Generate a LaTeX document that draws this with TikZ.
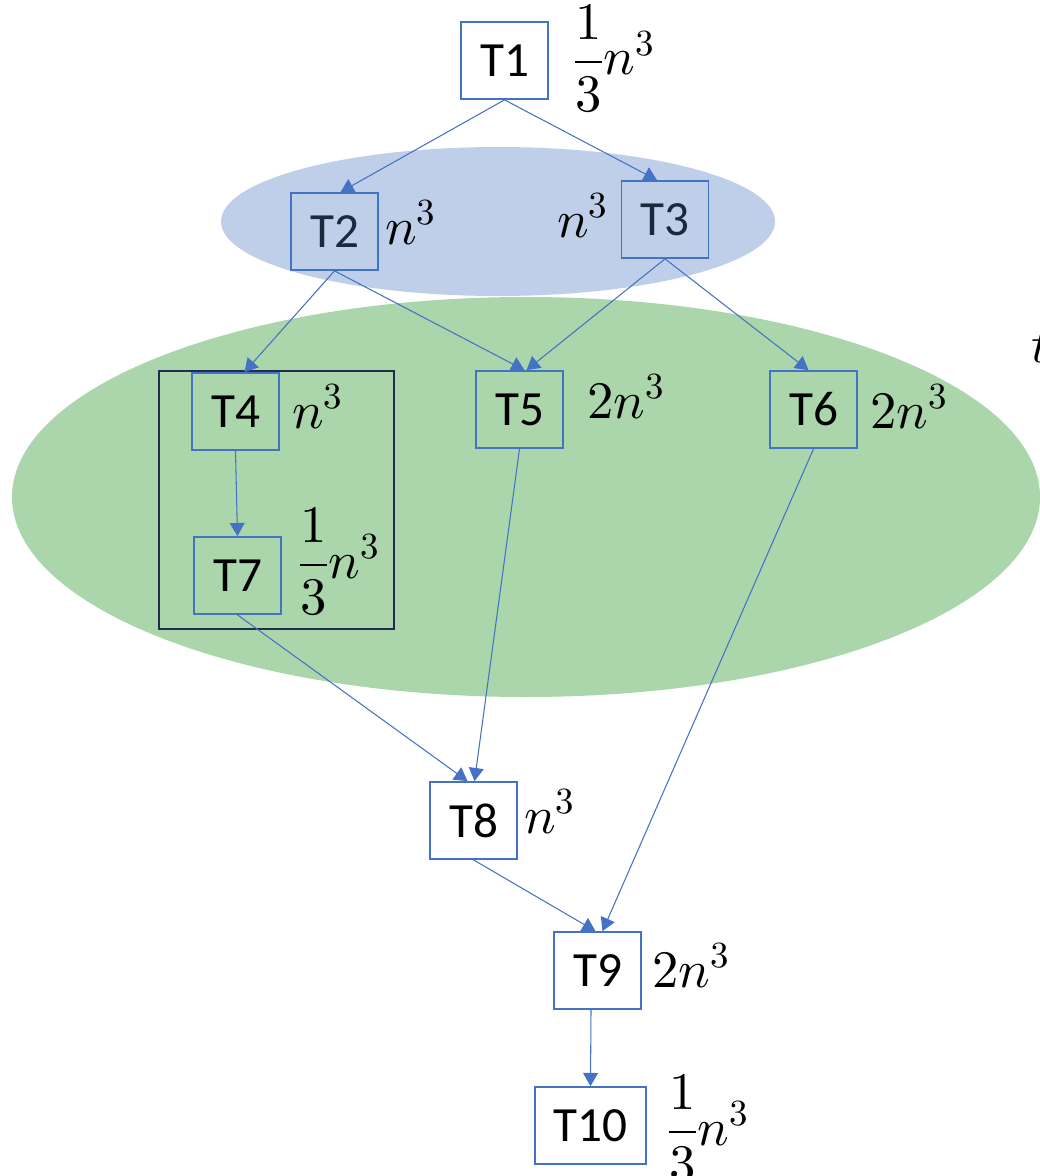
\documentclass[tikz,border=0pt]{standalone}
\usepackage{amsmath}
\usepackage{fontspec}
\usepackage{unicode-math}
\setmainfont{Carlito}
\setmathfont{Latin Modern Math}
\usetikzlibrary{arrows.meta}

\definecolor{taskblue}{RGB}{68,114,196}
\definecolor{stageblue}{RGB}{191,207,234}
\definecolor{stagegreen}{RGB}{171,213,171}
\definecolor{groupnavy}{RGB}{30,46,76}
\definecolor{taskdark}{RGB}{28,40,62}

\tikzset{
  task/.style={draw=taskblue, line width=1pt, minimum width=1.74cm,
    minimum height=1.54cm, inner sep=0pt, font=\fontsize{28}{32}\selectfont},
  cost/.style={anchor=base west, inner sep=0pt, font=\fontsize{30}{36}\selectfont},
  flow/.style={taskblue, line width=0.6pt, -{Triangle[length=7.5pt, width=8.5pt]}}
}

\begin{document}
\begin{tikzpicture}[x=0.02cm, y=-0.02cm]
\useasboundingbox (0,0) rectangle (1039,1176);

% 背景：两个阶段
\fill[stageblue] (498,221.5) ellipse (277 and 74.5);
\fill[stagegreen] (526,497) ellipse (514 and 200);

% T4、T7 分组框
\draw[groupnavy, line width=1.6pt] (159,371) rectangle (394,629);

% 任务节点
\node[task] (T1) at (504.5,60.5) {T1};
\node[task, text=taskdark] (T2) at (334.5,231.5) {T2};
\node[task, text=taskdark] (T3) at (665,219.5) {T3};
\node[task] (T4) at (235.5,411.5) {T4};
\node[task] (T5) at (519.5,409.5) {T5};
\node[task] (T6) at (813.5,409.5) {T6};
\node[task] (T7) at (237.5,575.5) {T7};
\node[task] (T8) at (473.5,820.5) {T8};
\node[task] (T9) at (597.5,970.5) {T9};
\node[task, minimum width=2.22cm] (T10) at (590.5,1125.5) {T10};

% 依赖关系
\draw[flow] (T1.south) -- ([xshift=0.12cm]T2.north);
\draw[flow] (T1.south) -- ([xshift=-0.16cm]T3.north);
\draw[flow] (T2.south) -- ([xshift=0.18cm]T4.north);
\draw[flow] (T2.south) -- ([xshift=0.1cm]T5.north);
\draw[flow] (T3.south) -- ([xshift=0.14cm]T5.north);
\draw[flow] (T3.south) -- ([xshift=-0.1cm]T6.north);
\draw[flow] (T4.south) -- (T7.north);
\draw[flow] (T7.south) -- ([xshift=-0.12cm]T8.north);
\draw[flow] (T5.south) -- ([xshift=0.02cm]T8.north);
\draw[flow] (T8.south) -- ([xshift=-0.04cm]T9.north);
\draw[flow] (T6.south) -- ([xshift=0.1cm]T9.north);
\draw[flow] ([xshift=-0.13cm]T9.south) -- (T10.north);

% 计算量
\node[cost] (c1) at (573,75) {$\dfrac{1}{3}n^3$};
\node[cost] (c2) at (385,244) {$n^3$};
\node[cost] (c3) at (557,237) {$n^3$};
\node[cost] (c4) at (292,428) {$n^3$};
\node[cost] (c5) at (587,418) {$2n^3$};
\node[cost] (c6) at (870,428) {$2n^3$};
\node[cost] (c7) at (298,578) {$\dfrac{1}{3}n^3$};
\node[cost] (c8) at (524,833) {$n^3$};
\node[cost] (c9) at (652,987) {$2n^3$};
\node[cost] (c10) at (667,1145) {$\dfrac{1}{3}n^3$};

% 右侧被截断的文字
\node[cost] (tcut) at (1031,362) {$t$};

\end{tikzpicture}
\end{document}
